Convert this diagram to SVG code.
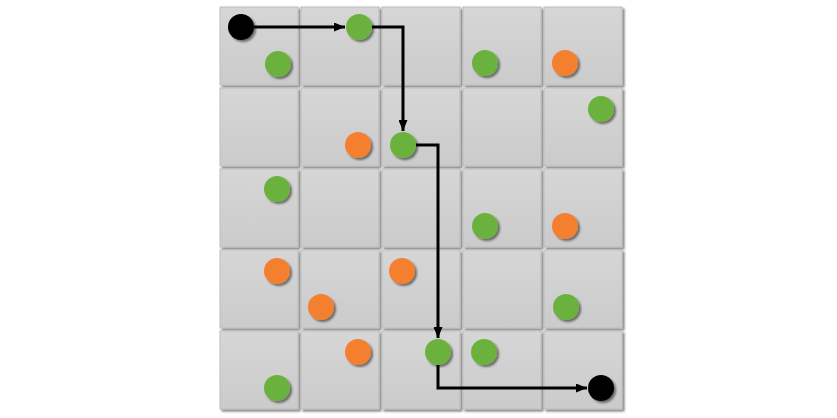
<svg xmlns="http://www.w3.org/2000/svg" width="837" height="418" viewBox="0 0 837 418">
<defs>
<linearGradient id="cg" x1="0" y1="0" x2="0" y2="1">
<stop offset="0" stop-color="#d6d6d6"/>
<stop offset="1" stop-color="#cbcbcb"/>
</linearGradient>
<filter id="sh" x="-30%" y="-30%" width="170%" height="170%">
<feGaussianBlur in="SourceAlpha" stdDeviation="1"/>
<feOffset dx="2" dy="2"/>
<feComponentTransfer><feFuncA type="linear" slope="0.5"/></feComponentTransfer>
<feMerge><feMergeNode/><feMergeNode in="SourceGraphic"/></feMerge>
</filter>
<marker id="ar" markerWidth="11" markerHeight="9" refX="11" refY="4.5" orient="auto" markerUnits="userSpaceOnUse">
<path d="M0,0 L11,4.5 L0,9 Z" fill="#000"/>
</marker>
</defs>
<style>
.cell{fill:url(#cg);stroke:#bdbdbd;stroke-width:1;filter:url(#sh)}
.g{fill:#6ab23e;filter:url(#sh)}
.o{fill:#f47f2f;filter:url(#sh)}
.k{fill:#000;filter:url(#sh)}
.ln{fill:none;stroke:#000;stroke-width:3}
</style>
<rect width="837" height="418" fill="#fff"/>
<g id="grid">
<rect class="cell" x="220" y="7" width="78" height="78"/>
<rect class="cell" x="301" y="7" width="78" height="78"/>
<rect class="cell" x="382" y="7" width="78" height="78"/>
<rect class="cell" x="463" y="7" width="78" height="78"/>
<rect class="cell" x="544" y="7" width="78" height="78"/>
<rect class="cell" x="220" y="88" width="78" height="78"/>
<rect class="cell" x="301" y="88" width="78" height="78"/>
<rect class="cell" x="382" y="88" width="78" height="78"/>
<rect class="cell" x="463" y="88" width="78" height="78"/>
<rect class="cell" x="544" y="88" width="78" height="78"/>
<rect class="cell" x="220" y="169" width="78" height="78"/>
<rect class="cell" x="301" y="169" width="78" height="78"/>
<rect class="cell" x="382" y="169" width="78" height="78"/>
<rect class="cell" x="463" y="169" width="78" height="78"/>
<rect class="cell" x="544" y="169" width="78" height="78"/>
<rect class="cell" x="220" y="250" width="78" height="78"/>
<rect class="cell" x="301" y="250" width="78" height="78"/>
<rect class="cell" x="382" y="250" width="78" height="78"/>
<rect class="cell" x="463" y="250" width="78" height="78"/>
<rect class="cell" x="544" y="250" width="78" height="78"/>
<rect class="cell" x="220" y="331" width="78" height="78"/>
<rect class="cell" x="301" y="331" width="78" height="78"/>
<rect class="cell" x="382" y="331" width="78" height="78"/>
<rect class="cell" x="463" y="331" width="78" height="78"/>
<rect class="cell" x="544" y="331" width="78" height="78"/>
</g>
<g id="connectors">
<path class="ln" d="M254,27 H345" marker-end="url(#ar)"/>
<path class="ln" d="M372,27 H403 V131" marker-end="url(#ar)"/>
<path class="ln" d="M416,145 H438 V338" marker-end="url(#ar)"/>
<path class="ln" d="M438,365 V388 H587" marker-end="url(#ar)"/>
</g>
<g id="start"><circle class="k" cx="241" cy="27" r="13"/></g>
<g id="end"><circle class="k" cx="601" cy="388" r="13"/></g>
<g id="dots">
<circle class="g" cx="278" cy="64" r="13"/>
<circle class="g" cx="359" cy="27" r="13"/>
<circle class="g" cx="485" cy="63" r="13"/>
<circle class="o" cx="565" cy="63" r="13"/>
<circle class="g" cx="601" cy="109" r="13"/>
<circle class="o" cx="358" cy="145" r="13"/>
<circle class="g" cx="403" cy="145" r="13"/>
<circle class="g" cx="277" cy="189" r="13"/>
<circle class="g" cx="485" cy="226" r="13"/>
<circle class="o" cx="565" cy="226" r="13"/>
<circle class="o" cx="277" cy="271" r="13"/>
<circle class="o" cx="321" cy="307" r="13"/>
<circle class="o" cx="402" cy="271" r="13"/>
<circle class="g" cx="566" cy="307" r="13"/>
<circle class="o" cx="358" cy="352" r="13"/>
<circle class="g" cx="438" cy="352" r="13"/>
<circle class="g" cx="484" cy="352" r="13"/>
<circle class="g" cx="277" cy="388" r="13"/>
</g>
</svg>
